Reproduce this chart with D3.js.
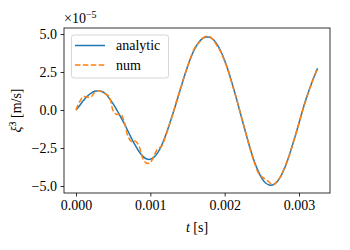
<!DOCTYPE html>
<html>
<head>
<meta charset="utf-8">
<script src="https://cdn.jsdelivr.net/npm/d3@7"></script>
<style>
  body { margin: 0; background: #fff; }
  svg text { font-family: "Liberation Serif", "DejaVu Serif", serif; }
</style>
</head>
<body>
<div id="chart"></div>
<script>
// time samples in ms (t * 1e3), values in units of 1e-5 m/s
var times = [0.00, 0.05, 0.10, 0.15, 0.20, 0.25, 0.30, 0.35, 0.40, 0.45,
             0.50, 0.55, 0.60, 0.65, 0.70, 0.75, 0.80, 0.85, 0.90, 0.95,
             1.00, 1.05, 1.10, 1.15, 1.20, 1.25, 1.30, 1.35, 1.40, 1.45,
             1.50, 1.55, 1.60, 1.65, 1.70, 1.75, 1.80, 1.85, 1.90, 1.95,
             2.00, 2.05, 2.10, 2.15, 2.20, 2.25, 2.30, 2.35, 2.40, 2.45,
             2.50, 2.55, 2.60, 2.65, 2.70, 2.75, 2.80, 2.85, 2.90, 2.95,
             3.00, 3.05, 3.10, 3.15, 3.20, 3.25];

var analytic = [0.00, 0.30, 0.62, 0.90, 1.10, 1.23, 1.27, 1.22, 1.05, 0.75,
                0.40, 0.00, -0.45, -0.90, -1.40, -1.90, -2.35, -2.75, -3.05, -3.22,
                -3.24, -3.10, -2.80, -2.35, -1.75, -1.05, -0.30, 0.50, 1.30, 2.10,
                2.85, 3.50, 4.05, 4.45, 4.70, 4.80, 4.78, 4.62, 4.30, 3.85,
                3.25, 2.55, 1.75, 0.90, 0.00, -0.90, -1.80, -2.65, -3.40, -4.00,
                -4.50, -4.80, -4.93, -4.92, -4.75, -4.40, -3.90, -3.25, -2.50, -1.70,
                -0.85, 0.00, 0.80, 1.50, 2.15, 2.74];

var num = [0.00, 0.55, 0.88, 0.85, 0.85, 1.15, 1.27, 1.20, 1.05, 0.85,
           -0.05, -0.30, -0.25, -0.80, -1.75, -2.10, -2.05, -2.40, -3.20, -3.50,
           -3.45, -3.00, -2.55, -2.40, -1.80, -1.05, -0.30, 0.55, 1.30, 2.10,
           2.85, 3.55, 4.10, 4.40, 4.70, 4.85, 4.82, 4.60, 4.20, 3.80,
           3.20, 2.55, 1.70, 0.90, 0.00, -0.90, -1.80, -2.70, -3.45, -4.10,
           -4.40, -4.55, -4.75, -4.95, -4.70, -4.40, -3.85, -3.25, -2.50, -1.70,
           -0.85, 0.00, 0.75, 1.50, 2.15, 2.78];

var xTicks = [0, 0.001, 0.002, 0.003];
var yTicks = [-5, -2.5, 0, 2.5, 5];
var seriesNames = ["analytic", "num"];

(function () {
    var width = 350, height = 250;
    var mLeft = 64, mRight = 330, mTop = 28, mBottom = 193;

    var svg = d3.select("#chart").append("svg")
        .attr("width", width)
        .attr("height", height);

    var x = d3.scaleLinear().domain([-0.0001614, 0.003417]).range([mLeft, mRight]);
    var y = d3.scaleLinear().domain([-5.46, 5.395]).range([mBottom, mTop]);

    // Draw lines
    var line = function (vals) {
        return d3.line()
            .x(function (d, i) { return x(times[i] / 1000); })
            .y(function (d) { return y(d); })
            .curve(d3.curveCatmullRom)(vals);
    };

    var plot = svg.append("g");
    plot.append("path")
        .attr("d", line(analytic))
        .attr("fill", "none")
        .attr("stroke", "#1f77b4")
        .attr("stroke-width", 1.5);

    plot.append("path")
        .attr("d", line(num))
        .attr("fill", "none")
        .attr("stroke", "#ff7f0e")
        .attr("stroke-width", 1.5)
        .attr("stroke-dasharray", "5.5,2.4");

    // Axes
    var xAxis = svg.append("g")
        .attr("transform", "translate(0," + mBottom + ")")
        .call(d3.axisBottom(x).tickValues(xTicks).tickFormat(d3.format(".3f"))
            .tickSize(3.5).tickPadding(3.5).tickSizeOuter(0));

    var yAxis = svg.append("g")
        .attr("transform", "translate(" + mLeft + ",0)")
        .call(d3.axisLeft(y).tickValues(yTicks).tickFormat(d3.format(".1f"))
            .tickSize(3.5).tickPadding(3.5).tickSizeOuter(0));

    [xAxis, yAxis].forEach(function (a) {
        a.select(".domain").remove();
        a.selectAll(".tick line").attr("stroke", "#000").attr("stroke-width", 0.8);
        a.selectAll(".tick text")
            .attr("fill", "#000")
            .style("font-family", "'Liberation Serif', serif")
            .style("font-size", "14px");
    });

    // frame
    svg.append("rect")
        .attr("x", mLeft)
        .attr("y", mTop)
        .attr("width", mRight - mLeft)
        .attr("height", mBottom - mTop)
        .attr("fill", "none")
        .attr("stroke", "#000")
        .attr("stroke-width", 0.8);

    // offset text
    var off = svg.append("text")
        .attr("x", mLeft)
        .attr("y", 23)
        .style("font-size", "14px");
    off.append("tspan").text("×10");
    off.append("tspan").attr("dy", -5).style("font-size", "10px").text("−5");

    // axis labels
    var xl = svg.append("text")
        .attr("x", (mLeft + mRight) / 2)
        .attr("y", 232)
        .attr("text-anchor", "middle")
        .style("font-size", "14px");
    xl.append("tspan").style("font-style", "italic").text("t");
    xl.append("tspan").text(" [s]");

    var yl = svg.append("text")
        .attr("transform", "translate(21," + ((mTop + mBottom) / 2) + ") rotate(-90)")
        .attr("text-anchor", "middle")
        .style("font-size", "14px");
    yl.append("tspan").style("font-style", "italic").text("\u03BE\u0307");
    yl.append("tspan").attr("dy", -5).style("font-size", "10px").text("3");
    yl.append("tspan").attr("dy", 5).text(" [m/s]");

    // Legend
    var legend = svg.append("g");
    legend.append("rect")
        .attr("x", 71.5)
        .attr("y", 35)
        .attr("width", 97)
        .attr("height", 43)
        .attr("rx", 2.5)
        .attr("fill", "#fff")
        .attr("fill-opacity", 0.8)
        .attr("stroke", "#cccccc")
        .attr("stroke-width", 0.8);

    var colors = ["#1f77b4", "#ff7f0e"];
    var dashes = [null, "5.5,2.4"];
    seriesNames.forEach(function (name, i) {
        var ly = 45.5 + i * 19.5;
        legend.append("line")
            .attr("x1", 75).attr("x2", 105)
            .attr("y1", ly).attr("y2", ly)
            .attr("stroke", colors[i])
            .attr("stroke-width", 1.5)
            .attr("stroke-dasharray", dashes[i]);
        legend.append("text")
            .attr("x", 116)
            .attr("y", ly + 4.5)
            .style("font-size", "14px")
            .text(name);
    });
})();
</script>
</body>
</html>
